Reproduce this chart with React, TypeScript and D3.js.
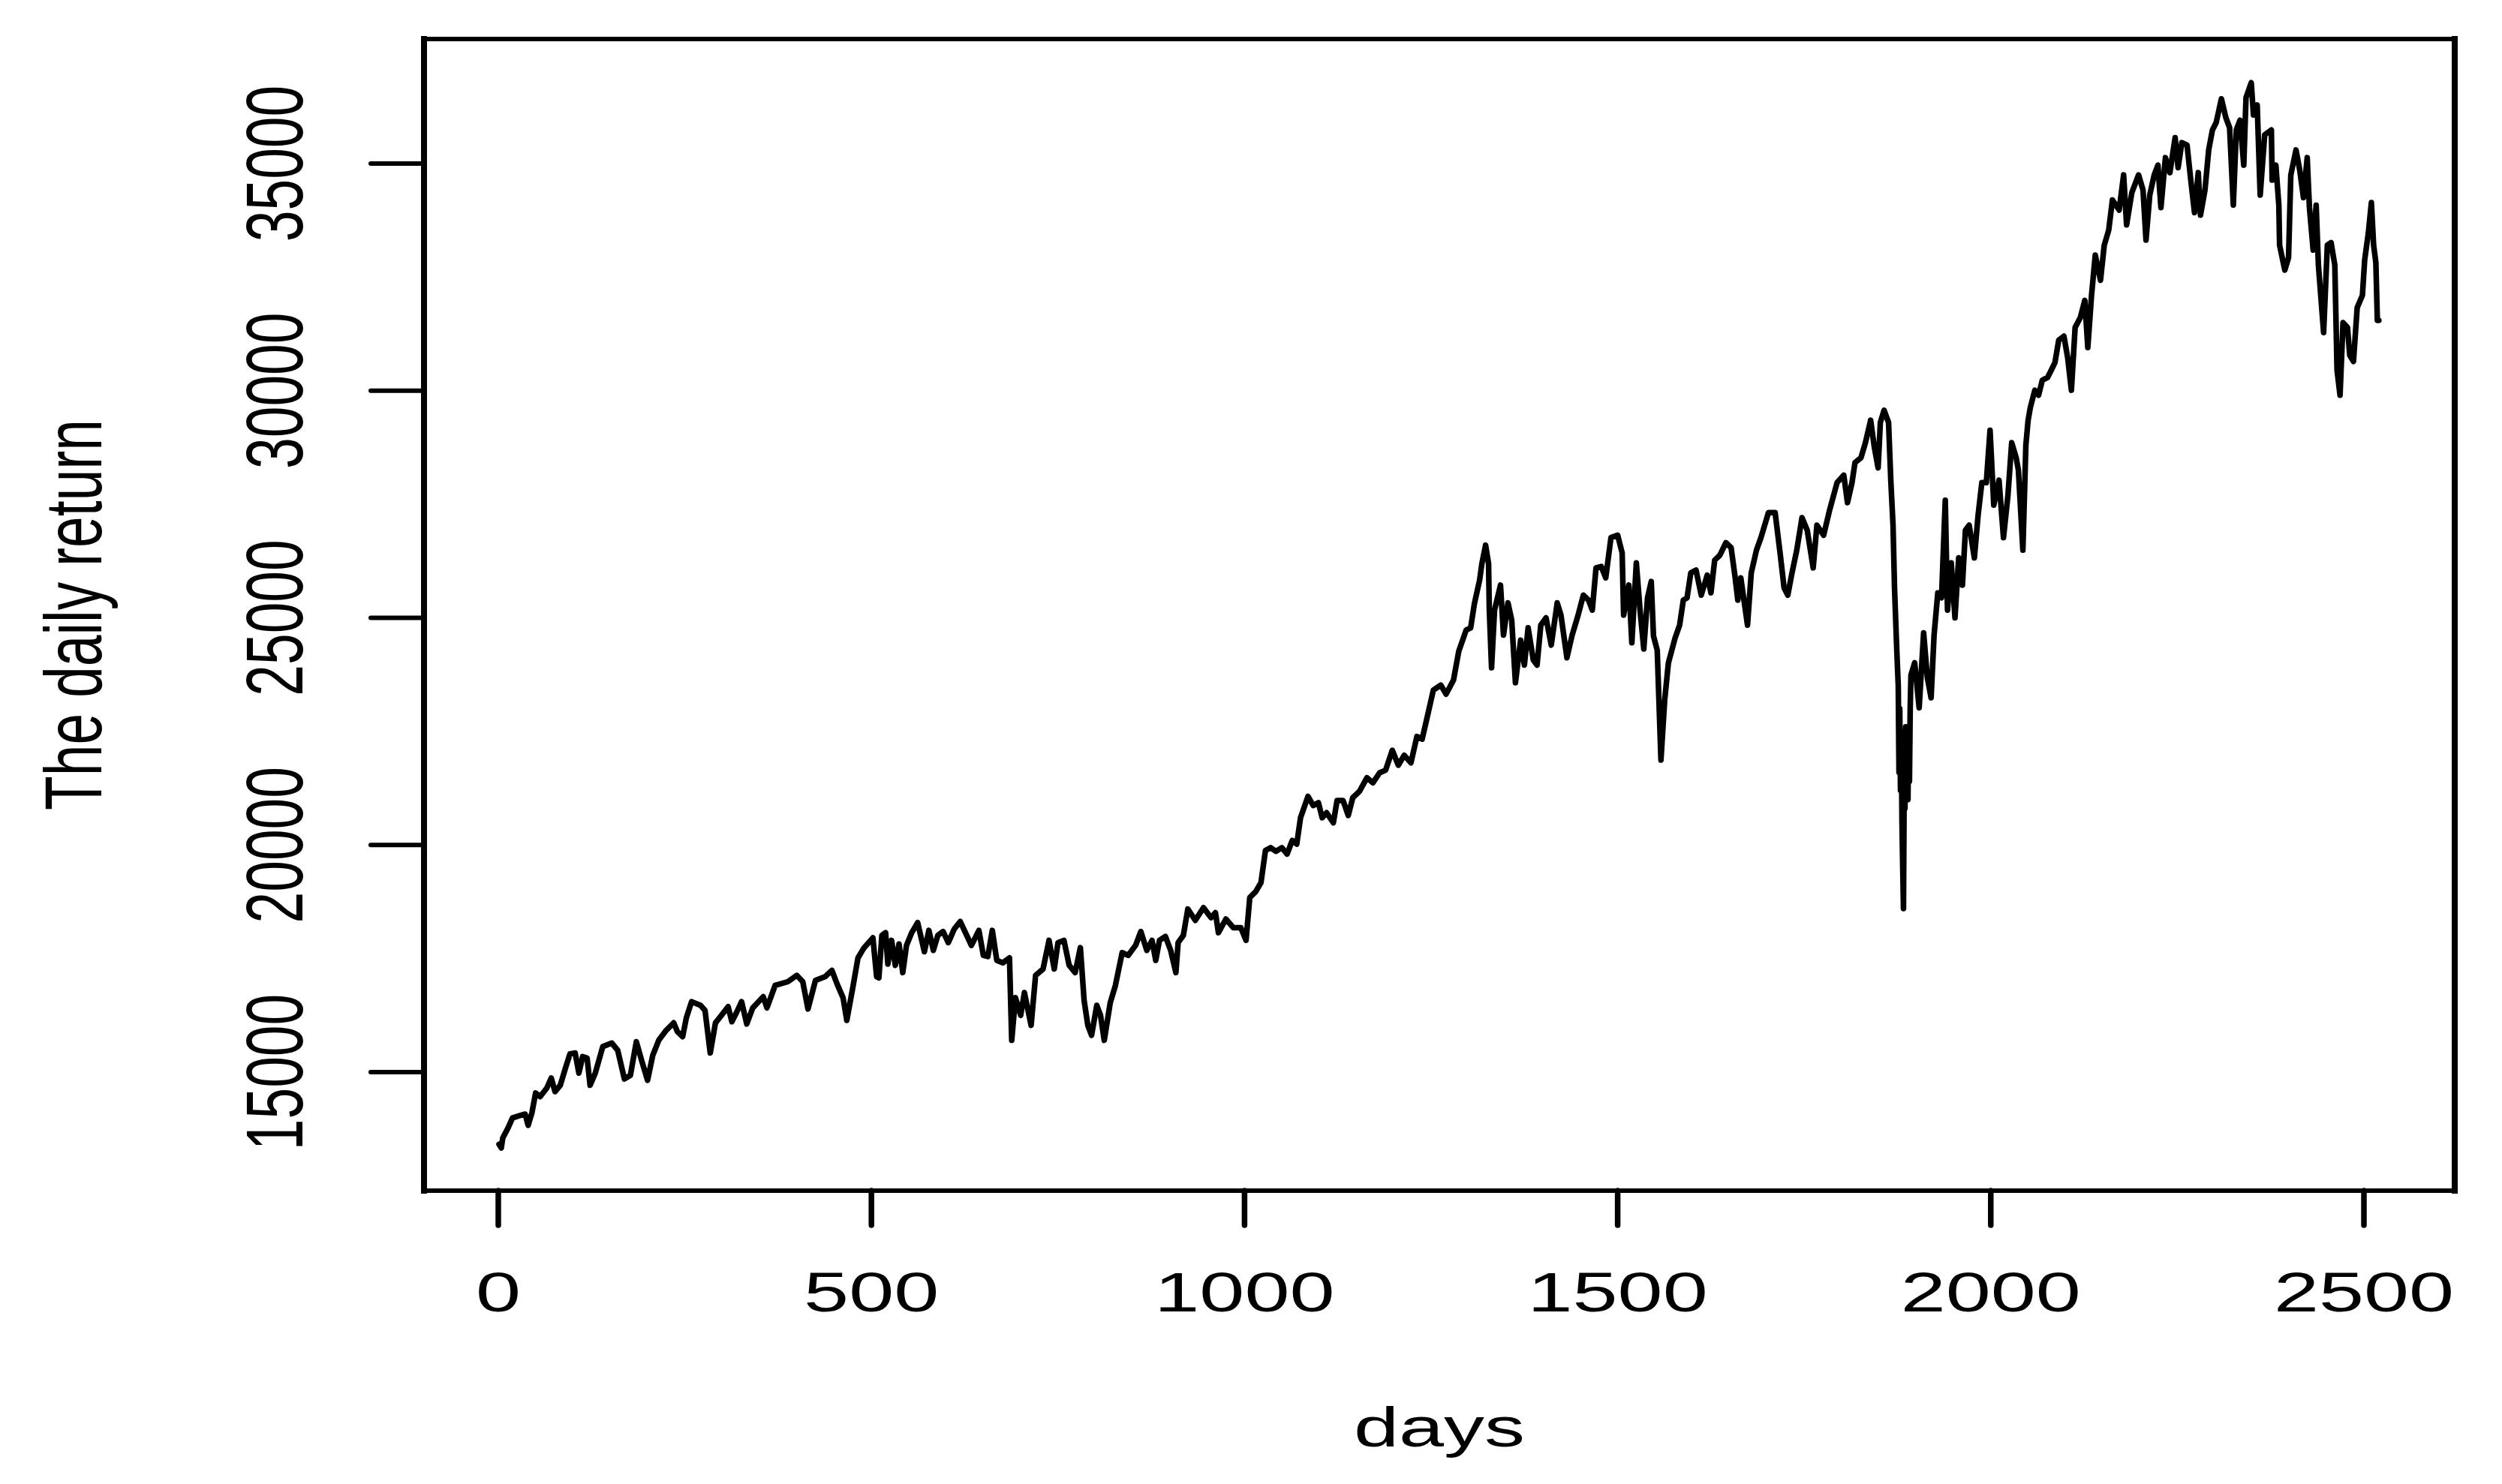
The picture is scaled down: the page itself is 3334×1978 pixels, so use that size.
import React from "react";
import * as d3 from "d3";

const days: number[] = [
  1, 4, 6, 13, 19, 30, 36, 40, 45, 50, 56, 65, 71, 76, 83, 90, 96, 103, 108, 113, 119, 123, 130, 140, 152, 160, 169, 177, 185, 192,
  200, 207, 215, 225, 235, 240, 247, 252, 259, 271, 277, 284, 291, 299, 308, 313, 319, 326, 333, 341, 355, 360, 371, 388, 400, 408,
  415, 425, 438, 447, 454, 462, 467, 475, 482, 490, 502, 507, 510, 514, 519, 522, 527, 532, 537, 542, 547, 554, 562, 571, 577, 583,
  589, 596, 603, 611, 619, 626, 634, 644, 650, 656, 662, 668, 676, 685, 688, 693, 700, 705, 714, 720, 730, 738, 745, 750, 758, 765,
  773, 780, 785, 790, 795, 802, 807, 812, 820, 827, 836, 844, 854, 861, 869, 876, 881, 886, 894, 901, 908, 911, 918, 924, 934, 945,
  955, 961, 965, 975, 985, 995, 1002, 1007, 1015, 1022, 1028, 1035, 1042, 1050, 1057, 1064, 1070, 1075, 1085, 1092, 1099, 1104,
  1110, 1119, 1124, 1132, 1139, 1145, 1154, 1164, 1172, 1181, 1189, 1198, 1206, 1214, 1223, 1231, 1238, 1245, 1253, 1263, 1270,
  1280, 1287, 1297, 1303, 1308, 1315, 1318, 1323, 1327, 1328, 1331, 1335, 1343, 1347, 1353, 1358, 1363, 1370, 1375, 1380, 1387,
  1392, 1397, 1404, 1411, 1419, 1424, 1432, 1439, 1447, 1454, 1461, 1466, 1471, 1478, 1484, 1491, 1500, 1506, 1508, 1515, 1519,
  1525, 1530, 1535, 1540, 1545, 1548, 1553, 1558, 1563, 1568, 1577, 1583, 1588, 1593, 1598, 1605, 1612, 1620, 1625, 1630, 1637,
  1645, 1652, 1657, 1661, 1665, 1674, 1679, 1686, 1692, 1702, 1711, 1718, 1723, 1728, 1733, 1740, 1747, 1754, 1762, 1767, 1776,
  1784, 1794, 1803, 1808, 1814, 1818, 1826, 1832, 1839, 1844, 1849, 1852, 1857, 1863, 1866, 1869, 1871, 1874, 1876, 1877, 1878,
  1879, 1880, 1881, 1882, 1883, 1884, 1885, 1886, 1887, 1888, 1889, 1890, 1891, 1892,
  1893, 1898, 1904, 1910, 1915, 1920, 1924, 1929, 1934, 1939, 1942, 1947, 1952, 1957, 1962, 1966,
  1971, 1978, 1983, 1988, 1994, 1999, 2004, 2011, 2017, 2023, 2028, 2034, 2037, 2043, 2047, 2050, 2053, 2059, 2064, 2069, 2076,
  2081, 2086, 2091, 2098, 2103, 2108, 2113, 2120, 2126, 2130, 2135, 2140, 2147, 2152, 2158, 2163, 2172, 2178, 2182, 2189, 2198,
  2204, 2208, 2213, 2219, 2224, 2228, 2234, 2240, 2247, 2251, 2256, 2263, 2268, 2273, 2278, 2281, 2287, 2292, 2297, 2302, 2309,
  2315, 2320, 2325, 2329, 2334, 2339, 2342, 2349, 2352, 2357, 2361, 2367, 2376, 2377, 2382, 2386, 2387, 2394, 2399, 2402, 2409,
  2414, 2419, 2424, 2427, 2432, 2436, 2439, 2446, 2451, 2456, 2461, 2464, 2468, 2472, 2478, 2481, 2486, 2491, 2498, 2501, 2506,
  2510, 2513, 2516, 2518, 2520,
];

const values: number[] = [
  13410, 13330, 13550, 13770, 13990, 14050, 14075, 13830, 14100, 14540, 14460, 14650, 14870, 14570, 14710, 15090, 15400, 15420,
  14980, 15340, 15310, 14710, 14980, 15560, 15640, 15480, 14850, 14930, 15670, 15260, 14820, 15370, 15700, 15920, 16085, 15890,
  15780, 16195, 16550, 16470, 16360, 15420, 16085, 16250, 16440, 16110, 16305, 16550, 16060, 16415, 16660, 16415, 16910, 16990,
  17130, 16990, 16390, 17020, 17100, 17240, 16940, 16635, 16140, 16855, 17515, 17735, 17955, 17100, 17076, 18010, 18070, 17380,
  17900, 17350, 17820, 17190, 17790, 18070, 18290, 17650, 18120, 17680, 18010, 18095, 17850, 18150, 18315, 18070, 17790, 18120,
  17570, 17545, 18120, 17460, 17405, 17515, 15700, 16640, 16250, 16750, 16030, 17130, 17270, 17900, 17270, 17850, 17900, 17350,
  17190, 17740, 16580, 16030, 15810, 16470, 16250, 15700, 16525, 16910, 17630, 17570, 17790, 18095, 17680, 17900, 17460, 17900,
  17985, 17680, 17190, 17850, 18010, 18590, 18340, 18620, 18400, 18510, 18070, 18370, 18180, 18180, 17900, 18840, 18975, 19170,
  19880, 19940, 19860, 19940, 19800, 20100, 20020, 20600, 21070, 20870, 20930, 20600, 20710, 20490, 20980, 20980, 20650, 21040,
  21180, 21480, 21370, 21590, 21645, 22085, 21755, 21975, 21810, 22390, 22330, 22830, 23410, 23520, 23320, 23630, 24260, 24730,
  24780, 25310, 25830, 26190, 26600, 26190, 25170, 23900, 25170, 25720, 24620, 25330, 24950, 23570, 24510, 23960, 24780, 24070,
  23960, 24840, 25000, 24400, 25330, 25060, 24120, 24620, 25060, 25500, 25390, 25170, 26100, 26130, 25880, 26765, 26820, 26430,
  25060, 25720, 24450, 26210, 25170, 24315, 25440, 25800, 24600, 24290, 21870, 23190, 24010, 24560, 24840, 25390, 25440, 25990,
  26050, 25500, 25940, 25550, 26270, 26380, 26655, 26545, 25940, 25390, 25880, 24840, 25990, 26490, 26765, 27315, 27315, 26380,
  25660, 25500, 25940, 26490, 27205, 26930, 26100, 27040, 26820, 27370, 27975, 28140, 27535, 27975, 28415, 28525, 28855, 29350,
  28750, 28300, 29300, 29570, 29300, 28030, 27040, 25660, 24300, 23500, 21600, 23000, 21200, 22500, 20500, 19500, 18600, 21500,
  20800, 22600, 21200, 22400, 21000, 22600, 21400, 23000, 23740,
  24010, 23020, 24670, 23680, 23240, 24620, 25550, 25440, 27590, 25170, 26210, 25000, 26320, 25720, 26930, 27040, 26320, 27260,
  27975, 27975, 29130, 27480, 28030, 26765, 27700, 28855, 28525, 28250, 26490, 28800, 29350, 29630, 30010, 29900, 30230, 30290,
  30450, 30620, 31110, 31200, 30730, 30010, 31390, 31610, 31990, 30950, 32100, 32985, 32430, 33200, 33535, 34200, 33975, 34750,
  33650, 34360, 34750, 34415, 33315, 34305, 34750, 34965, 34030, 35130, 34800, 35570, 34910, 35460, 35405, 34635, 33920, 34800,
  33865, 34415, 35300, 35740, 35900, 36425, 36010, 35790, 34085, 35740, 35955, 34965, 36450, 36780, 36070, 36290, 34305, 35630,
  35740, 34635, 34965, 34085, 33205, 32655, 32930, 34745, 35300, 34855, 34250, 35130, 34030, 33095, 34085, 32765, 31280, 33205,
  33260, 32765, 30450, 29900, 31500, 31390, 30780, 30645, 31830, 32100, 32875, 33480, 34140, 33205, 32820, 31550, 31550,
];

const xTicks: number[] = [0, 500, 1000, 1500, 2000, 2500];
const yTicks: number[] = [15000, 20000, 25000, 30000, 35000];
const xTitle = "days";
const yTitle = "The daily return";

const W = 3334;
const H = 1978;
const box = { left: 565, right: 3271, top: 52, bottom: 1587 };
const FONT = "'Liberation Sans', Arial, Helvetica, sans-serif";
const FS = 75;
const SX = 1.44;

export default function App() {
  const x = d3.scaleLinear().domain([0, 2500]).range([664, 3150]);
  const y = d3.scaleLinear().domain([15000, 35000]).range([1429, 218]);
  const pts: [number, number][] = days.map((d, i) => [d, values[i]]);
  const line = d3
    .line<[number, number]>()
    .x((d) => x(d[0]))
    .y((d) => y(d[1]));
  const path = line(pts) || "";
  const midY = (box.top + box.bottom) / 2;
  const midX = (box.left + box.right) / 2;

  return (
    <svg
      width={W}
      height={H}
      viewBox={`0 0 ${W} ${H}`}
      style={{ position: "absolute", left: 0, top: 0, background: "#fff" }}
    >
      <rect x={0} y={0} width={W} height={H} fill="#fff" />
      <path
        d={path}
        fill="none"
        stroke="#000"
        strokeWidth={7.5}
        strokeLinejoin="round"
        strokeLinecap="round"
      />
      <line x1={box.left} x2={box.right} y1={box.top} y2={box.top} stroke="#000" strokeWidth={6} strokeLinecap="square" />
      <line x1={box.left} x2={box.right} y1={box.bottom} y2={box.bottom} stroke="#000" strokeWidth={6} strokeLinecap="square" />
      <line x1={box.left} x2={box.left} y1={box.top} y2={box.bottom} stroke="#000" strokeWidth={8} strokeLinecap="square" />
      <line x1={box.right} x2={box.right} y1={box.top} y2={box.bottom} stroke="#000" strokeWidth={8} strokeLinecap="square" />
      {xTicks.map((t) => (
        <g key={"xt" + t}>
          <line x1={x(t)} x2={x(t)} y1={box.bottom} y2={1633} stroke="#000" strokeWidth={7.5} strokeLinecap="round" />
          <text
            transform={`translate(${x(t)},1748) scale(${SX},1)`}
            textAnchor="middle"
            fontFamily={FONT}
            fontSize={FS}
            fill="#000"
          >
            {t}
          </text>
        </g>
      ))}
      {yTicks.map((t) => (
        <g key={"yt" + t}>
          <line x1={494} x2={box.left} y1={y(t)} y2={y(t)} stroke="#000" strokeWidth={6} strokeLinecap="round" />
          <text
            transform={`translate(403,${y(t)}) scale(${SX},1) rotate(-90)`}
            textAnchor="middle"
            fontFamily={FONT}
            fontSize={FS}
            fill="#000"
          >
            {t}
          </text>
        </g>
      ))}
      <text
        transform={`translate(${midX},1928) scale(${SX},1)`}
        textAnchor="middle"
        fontFamily={FONT}
        fontSize={FS}
        fill="#000"
      >
        {xTitle}
      </text>
      <text
        transform={`translate(135,${midY}) scale(${SX},1) rotate(-90)`}
        textAnchor="middle"
        fontFamily={FONT}
        fontSize={FS}
        fill="#000"
      >
        {yTitle}
      </text>
    </svg>
  );
}
